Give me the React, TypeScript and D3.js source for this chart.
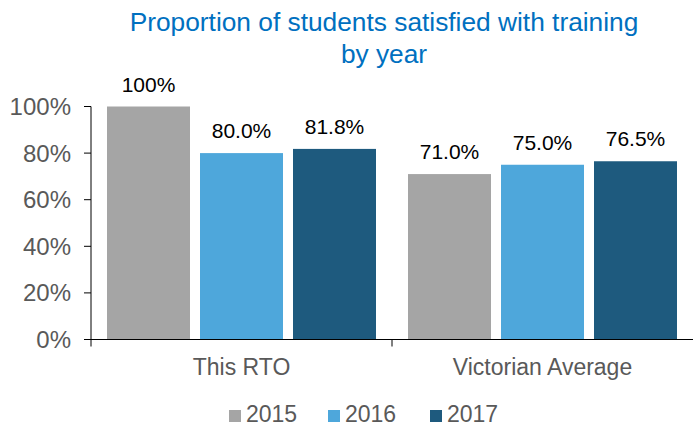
import * as d3 from 'd3';

const categories = ['This RTO', 'Victorian Average'];
const years = ['2015', '2016', '2017'];
const values2015 = [1.0, 0.71];
const values2016 = [0.8, 0.75];
const values2017 = [0.818, 0.765];
const valueLabels2015 = ['100%', '71.0%'];
const valueLabels2016 = ['80.0%', '75.0%'];
const valueLabels2017 = ['81.8%', '76.5%'];
const yTicks = [0, 0.2, 0.4, 0.6, 0.8, 1.0];
const colors = ['#A5A5A5', '#4EA7DB', '#1E5A7E'];

const W = 693;
const H = 428;
const font = '"Liberation Sans", Arial, sans-serif';

export default function App() {
  const series = [values2015, values2016, values2017];
  const labels = [valueLabels2015, valueLabels2016, valueLabels2017];

  const y = d3.scaleLinear().domain([0, 1]).range([339.5, 106.5]);
  const x0 = d3.scaleBand().domain(categories).range([91, 693]);
  const x1 = d3.scaleBand()
    .domain(years)
    .range([16, x0.bandwidth() - 16])
    .paddingInner(10 / 93);

  const legendX = [229, 328, 430];

  return (
    <svg
      width={W}
      height={H}
      style={{ position: 'absolute', left: 0, top: 0, display: 'block', fontFamily: font }}
    >
      <rect width={W} height={H} fill="#fff" />
      <text x={384} y={31} textAnchor="middle" fontSize={26.3} fill="#0070C0">
        Proportion of students satisfied with training
      </text>
      <text x={384} y={63} textAnchor="middle" fontSize={26.3} fill="#0070C0">
        by year
      </text>

      {yTicks.map(t => (
        <g key={t}>
          <line x1={84} x2={91} y1={y(t)} y2={y(t)} stroke="#000" />
          <text x={71} y={y(t) + 8.5} textAnchor="end" fontSize={24} fill="#595959">
            {d3.format('.0%')(t)}
          </text>
        </g>
      ))}

      {categories.map((c, ci) => (
        <g key={c} transform={`translate(${x0(c)},0)`}>
          {years.map((yr, si) => {
            const v = series[si][ci];
            const bx = x1(yr)!;
            return (
              <g key={yr}>
                <rect x={bx} y={y(v)} width={x1.bandwidth()} height={y(0) - y(v)} fill={colors[si]} />
                <text
                  x={bx + x1.bandwidth() / 2}
                  y={y(v) - 15}
                  textAnchor="middle"
                  fontSize={21}
                  fill="#000"
                >
                  {labels[si][ci]}
                </text>
              </g>
            );
          })}
          <text x={x0.bandwidth() / 2} y={375} textAnchor="middle" fontSize={23} fill="#595959">
            {c}
          </text>
        </g>
      ))}

      <line x1={91} x2={91} y1={y(1)} y2={y(0)} stroke="#000" />
      <line x1={84} x2={W} y1={y(0)} y2={y(0)} stroke="#000" />
      {categories.map(c => (
        <line key={c} x1={x0(c)} x2={x0(c)} y1={y(0)} y2={y(0) + 7} stroke="#000" />
      ))}

      {years.map((yr, i) => (
        <g key={yr}>
          <rect x={legendX[i]} y={410} width={12} height={12} fill={colors[i]} />
          <text x={legendX[i] + 17} y={422} fontSize={23} fill="#595959">
            {yr}
          </text>
        </g>
      ))}
    </svg>
  );
}
